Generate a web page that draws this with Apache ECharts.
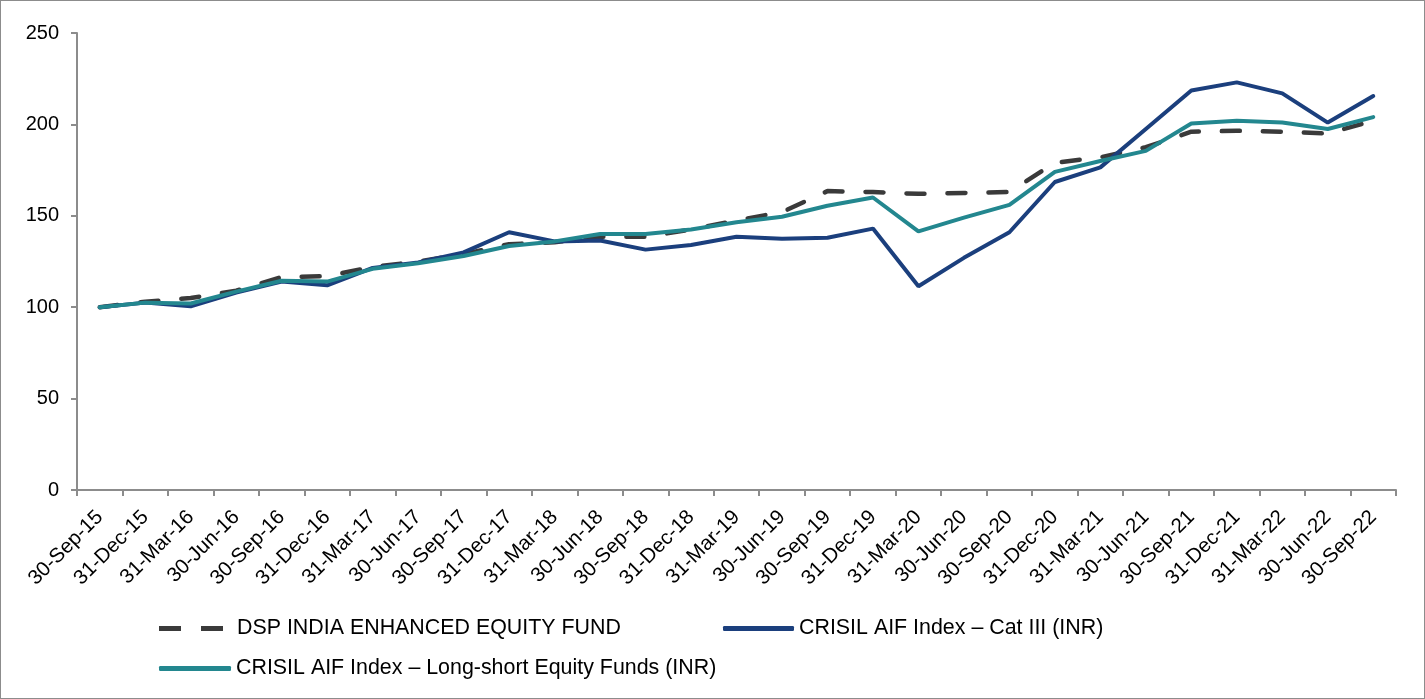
<!DOCTYPE html>
<html>
<head>
<meta charset="utf-8">
<style>
  html, body { margin: 0; padding: 0; background: #fff; }
  #chart { width: 1425px; height: 699px; box-sizing: border-box; border: 1px solid #8c8c8c; }
</style>
<script src="https://cdn.jsdelivr.net/npm/echarts@6/dist/echarts.min.js"></script>
</head>
<body>
<div id="chart"></div>
<script>
// quarter-end dates
var categories = [
  "30-Sep-15", "31-Dec-15", "31-Mar-16", "30-Jun-16", "30-Sep-16", "31-Dec-16",
  "31-Mar-17", "30-Jun-17", "30-Sep-17", "31-Dec-17", "31-Mar-18", "30-Jun-18",
  "30-Sep-18", "31-Dec-18", "31-Mar-19", "30-Jun-19", "30-Sep-19", "31-Dec-19",
  "31-Mar-20", "30-Jun-20", "30-Sep-20", "31-Dec-20", "31-Mar-21", "30-Jun-21",
  "30-Sep-21", "31-Dec-21", "31-Mar-22", "30-Jun-22", "30-Sep-22"
];
var dspFund = [
  100, 103, 105, 109, 116.5, 117, 122, 125, 129, 134.5, 135.5, 138.5,
  138.5, 142.5, 147.5, 152, 163.5, 163, 162, 162.5, 163, 179, 182, 187.5,
  196, 196.5, 196, 195, 202
];
var cat3Index = [
  100, 102.5, 100.5, 108, 114, 112, 121.5, 124.5, 130, 141, 136, 136.5,
  131.5, 134, 138.5, 137.5, 138, 143, 111.5, 127, 141, 168.5, 176.5, 197.5,
  218.5, 223, 217, 201, 215.5
];
var longShortIndex = [
  100, 102.5, 102, 108.5, 114.5, 114, 121, 124, 128, 133.5, 136, 140,
  140, 142.5, 146.5, 149.5, 155.5, 160, 141.5, 149, 156, 174, 180, 185.5,
  200.5, 202, 201, 197.5, 204
];
var yTicks = { min: 0, max: 250, interval: 50 };

var names = [
  "DSP INDIA ENHANCED EQUITY FUND",
  "CRISIL AIF Index – Cat III (INR)",
  "CRISIL AIF Index – Long-short Equity Funds (INR)"
];

var myChart = echarts.init(document.getElementById("chart"));
var legendText = { fontFamily: "Liberation Sans", fontSize: 21.4, color: "#000" };

myChart.setOption({
  animation: false,
  textStyle: { fontFamily: "Liberation Sans" },
  legend: [
    {
      data: [{ name: names[0], icon: "path://M0,0h22v5h-22zM42,0h22v5h-22z" }],
      left: 158, top: 617, padding: 0, itemWidth: 64, itemHeight: 5,
      textStyle: Object.assign({ padding: [0, 0, 0, 9] }, legendText)
    },
    {
      data: [{ name: names[1], icon: "roundRect" }],
      left: 722, top: 617, padding: 0, itemWidth: 71, itemHeight: 5,
      textStyle: legendText
    },
    {
      data: [{ name: names[2], icon: "roundRect" }],
      left: 158, top: 657, padding: 0, itemWidth: 72, itemHeight: 5,
      textStyle: legendText
    }
  ],
  grid: { left: 76, right: 28, top: 32, bottom: 208 },
  xAxis: {
    type: "category",
    boundaryGap: true,
    data: categories,
    axisLine: { lineStyle: { color: "#8c8c8c", width: 2 } },
    axisTick: { show: true, length: 6, lineStyle: { color: "#8c8c8c", width: 2 } },
    axisLabel: { interval: 0, rotate: 45, fontSize: 20.5, color: "#000", margin: 24 }
  },
  yAxis: {
    type: "value",
    min: yTicks.min,
    max: yTicks.max,
    interval: yTicks.interval,
    splitLine: { show: false },
    axisLine: { show: true, lineStyle: { color: "#8c8c8c", width: 2 } },
    axisTick: { show: true, length: 6, lineStyle: { color: "#8c8c8c", width: 2 } },
    axisLabel: { fontSize: 20, color: "#000", margin: 18 }
  },
  series: [
    {
      name: names[0],
      type: "line",
      data: dspFund,
      symbol: "none",
      z: 1,
      lineStyle: { color: "#3a3a3a", width: 4.5, type: [18, 23], cap: "round" },
      itemStyle: { color: "#3a3a3a" }
    },
    {
      name: names[1],
      type: "line",
      data: cat3Index,
      symbol: "none",
      z: 2,
      lineStyle: { color: "#1b3f7d", width: 4, cap: "round" },
      itemStyle: { color: "#1b3f7d" }
    },
    {
      name: names[2],
      type: "line",
      data: longShortIndex,
      symbol: "none",
      z: 3,
      lineStyle: { color: "#23878f", width: 4, cap: "round" },
      itemStyle: { color: "#23878f" }
    }
  ]
});
</script>
</body>
</html>
